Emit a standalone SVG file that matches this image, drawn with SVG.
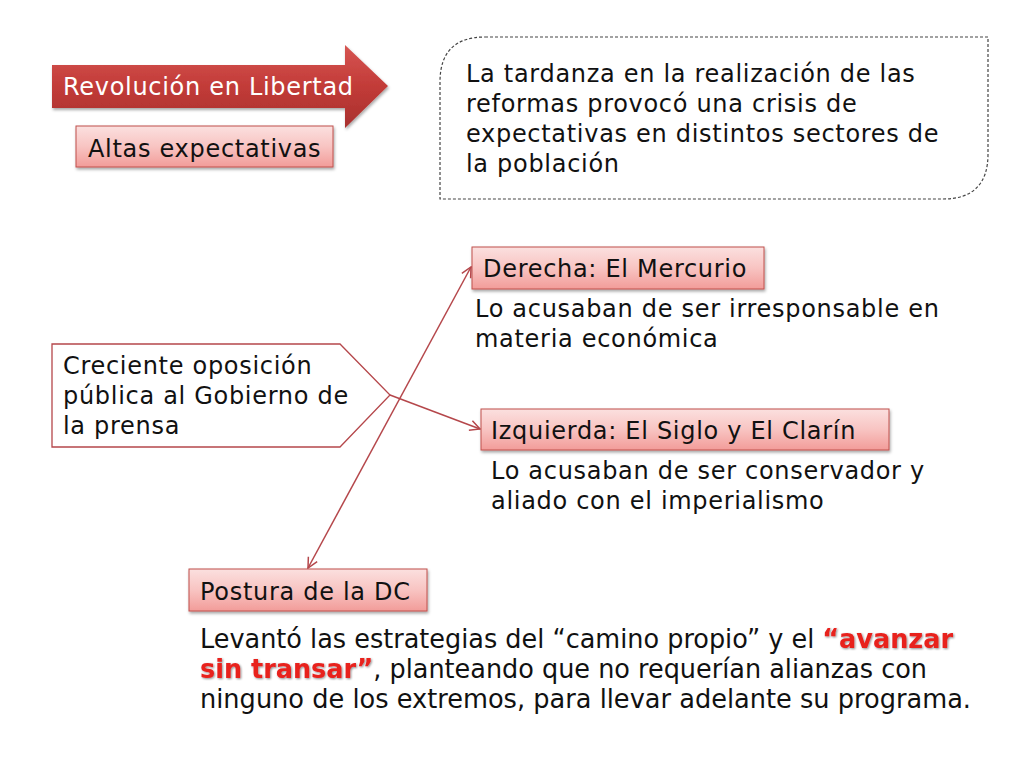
<svg xmlns="http://www.w3.org/2000/svg" width="1024" height="768" viewBox="0 0 1024 768">
<defs>
<linearGradient id="pink" x1="0" y1="0" x2="0" y2="1">
<stop offset="0" stop-color="#fbe0df"/>
<stop offset="0.5" stop-color="#f8c4c2"/>
<stop offset="1" stop-color="#f29c99"/>
</linearGradient>
<linearGradient id="red" x1="0" y1="0" x2="0" y2="1">
<stop offset="0" stop-color="#d65552"/>
<stop offset="0.5" stop-color="#c23b38"/>
<stop offset="1" stop-color="#a8312e"/>
</linearGradient>
<filter id="sh" x="-10%" y="-20%" width="130%" height="160%">
<feDropShadow dx="1" dy="2" stdDeviation="1.5" flood-color="#000" flood-opacity="0.35"/>
</filter>
<filter id="tsh" x="-5%" y="-30%" width="110%" height="160%">
<feDropShadow dx="1" dy="1" stdDeviation="0.8" flood-color="#000" flood-opacity="0.45"/>
</filter>
<marker id="ah" viewBox="0 0 12 12" refX="11" refY="6" markerWidth="12" markerHeight="12" markerUnits="userSpaceOnUse" orient="auto-start-reverse">
<path d="M1,1 L11,6 L1,11" fill="none" stroke="#b5474b" stroke-width="1.5"/>
</marker>
</defs>
<style>
.t{font-family:"DejaVu Sans",Verdana,sans-serif;font-size:24px;letter-spacing:0.7px;fill:#111}
.box{fill:url(#pink);stroke:#c0504d;stroke-width:1;filter:url(#sh)}
.ln{stroke:#b5474b;stroke-width:1.5;fill:none}
.nar{font-family:"DejaVu Sans",sans-serif;font-size:26px;fill:#111}
</style>
<rect width="1024" height="768" fill="#fff"/>

<g id="revolucion">
<path d="M52,65 L345,65 L345,45 L388,86 L345,128 L345,108 L52,108 Z" fill="url(#red)" filter="url(#sh)"/>
<text class="t" x="63" y="95" style="fill:#fff">Revolución en Libertad</text>
</g>

<g id="altas">
<rect class="box" x="76" y="126" width="257" height="41"/>
<text class="t" x="88" y="157">Altas expectativas</text>
</g>

<g id="tardanza">
<path d="M485,37 L988,37 L988,154 Q988,199 943,199 L440,199 L440,82 Q440,37 485,37 Z" fill="#fff" stroke="#444" stroke-width="1.2" stroke-dasharray="3,2"/>
<text class="t" x="466" y="82">La tardanza en la realización de las</text>
<text class="t" x="466" y="112">reformas provocó una crisis de</text>
<text class="t" x="466" y="142">expectativas en distintos sectores de</text>
<text class="t" x="466" y="172">la población</text>
</g>

<g id="creciente">
<path d="M52,344 L340,344 L390,395 L340,447 L52,447 Z" fill="#fff" stroke="#b5474b" stroke-width="1.3"/>
<text class="t" x="63" y="374">Creciente oposición</text>
<text class="t" x="63" y="404">pública al Gobierno de</text>
<text class="t" x="63" y="434">la prensa</text>
</g>

<g id="derecha">
<rect class="box" x="472" y="247" width="292" height="42"/>
<text class="t" x="483" y="277">Derecha: El Mercurio</text>
<text class="t" x="475" y="317">Lo acusaban de ser irresponsable en</text>
<text class="t" x="475" y="347">materia económica</text>
</g>

<g id="izquierda">
<rect class="box" x="481" y="409" width="408" height="41"/>
<text class="t" x="491" y="439">Izquierda: El Siglo y El Clarín</text>
<text class="t" x="491" y="479">Lo acusaban de ser conservador y</text>
<text class="t" x="491" y="509">aliado con el imperialismo</text>
</g>

<g id="postura">
<rect class="box" x="189" y="569" width="238" height="42"/>
<text class="t" x="200" y="600">Postura de la DC</text>
<text class="nar" x="200" y="648" textLength="753" lengthAdjust="spacingAndGlyphs">Levantó las estrategias del “camino propio” y el <tspan style="fill:#e8201f;font-weight:bold;filter:url(#tsh)">“avanzar</tspan></text>
<text class="nar" x="200" y="678" textLength="727" lengthAdjust="spacingAndGlyphs"><tspan style="fill:#e8201f;font-weight:bold;filter:url(#tsh)">sin transar”</tspan>, planteando que no requerían alianzas con</text>
<text class="nar" x="200" y="708" textLength="771" lengthAdjust="spacingAndGlyphs">ninguno de los extremos, para llevar adelante su programa.</text>
</g>

<g id="connectors">
<line class="ln" x1="308" y1="568" x2="471" y2="267" marker-start="url(#ah)" marker-end="url(#ah)"/>
<line class="ln" x1="390" y1="395" x2="480" y2="429" marker-end="url(#ah)"/>
</g>
</svg>
